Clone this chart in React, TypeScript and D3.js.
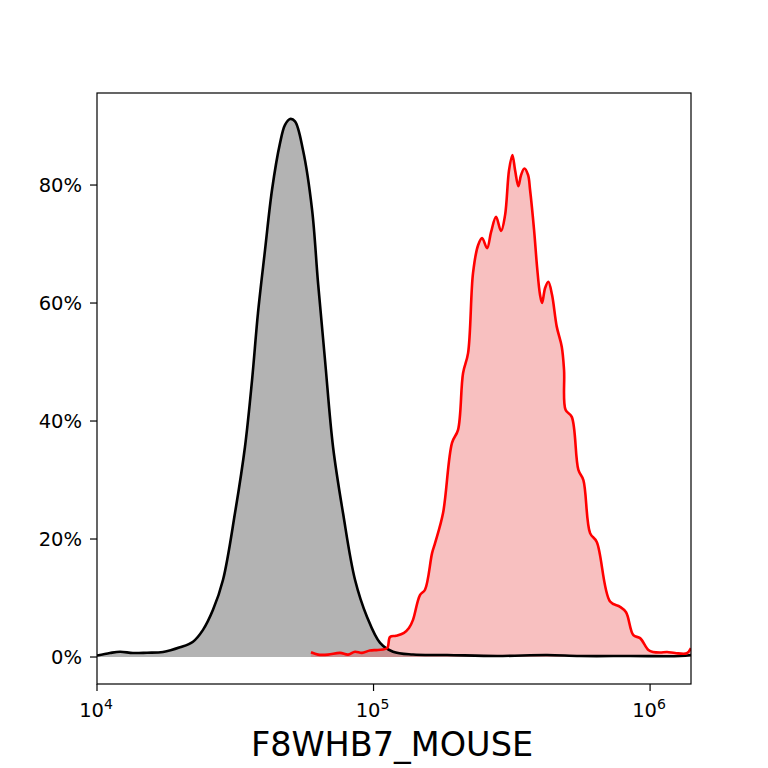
import * as d3 from 'd3';

// Control (grey) histogram, x in fluorescence units, y in % of max
const controlX = [
  1.0e4, 1.114e4, 1.211e4, 1.349e4, 1.516e4, 1.733e4, 1.995e4, 2.224e4, 2.417e4, 2.627e4,
  2.856e4, 3.155e4, 3.428e4, 3.636e4, 3.82e4, 4.052e4, 4.295e4, 4.59e4, 4.785e4, 4.989e4,
  5.2e4, 5.56e4, 5.995e4, 6.3e4, 6.677e4, 7.138e4, 7.756e4, 8.57e4, 9.474e4, 1.056e5,
  1.176e5, 1.389e5, 1.845e5, 2.797e5, 4.241e5, 5.58e5, 8.47e5, 1.284e6, 1.406e6,
];
const controlY = [
  0.25, 0.68, 0.9, 0.68, 0.73, 0.85, 1.64, 2.6, 4.6, 8.0,
  13.1, 24.4, 35.6, 46.9, 58.3, 69.0, 79.2, 87.1, 90.2, 91.2,
  90.8, 85.9, 75.8, 63.4, 50.3, 35.6, 24.4, 13.1, 6.8, 2.4,
  0.9, 0.42, 0.34, 0.17, 0.34, 0.17, 0.17, 0.17, 0.34,
];

// Stained (red) histogram
const sampleX = [
  5.94e4, 6.3e4, 6.845e4, 7.566e4, 8.09e4, 8.57e4, 9.08e4, 9.7e4, 1.037e5, 1.119e5,
  1.147e5, 1.206e5, 1.289e5, 1.343e5, 1.389e5, 1.472e5, 1.535e5, 1.628e5, 1.669e5, 1.784e5,
  1.922e5, 2.021e5, 2.107e5, 2.197e5, 2.29e5, 2.388e5, 2.469e5, 2.574e5, 2.66e5, 2.773e5,
  2.891e5, 2.99e5, 3.09e5, 3.177e5, 3.25e5, 3.34e5, 3.416e5, 3.511e5, 3.621e5, 3.681e5,
  3.806e5, 3.903e5, 4.0e5, 4.07e5, 4.17e5, 4.286e5, 4.42e5, 4.597e5, 4.793e5, 4.886e5,
  4.947e5, 5.21e5, 5.505e5, 5.739e5, 6.068e5, 6.416e5, 7.166e5, 7.789e5, 8.188e5, 8.701e5,
  9.2e5, 9.86e5, 1.025e6, 1.087e6, 1.152e6, 1.231e6, 1.358e6, 1.406e6,
];
const sampleY = [
  0.8, 0.4, 0.4, 0.7, 0.4, 0.9, 0.7, 1.1, 1.2, 1.5,
  3.4, 3.6, 4.1, 4.9, 6.3, 10.5, 11.4, 17.6, 19.3, 24.4,
  36.3, 38.5, 48.1, 51.5, 65.1, 69.8, 71.0, 69.3, 72.0, 74.6,
  72.2, 74.9, 82.5, 85.1, 82.5, 79.8, 81.7, 82.8, 81.7, 79.2,
  72.4, 66.1, 61.4, 60.0, 62.5, 63.6, 61.4, 56.0, 52.6, 48.6,
  41.9, 40.7, 31.7, 30.0, 21.0, 19.5, 9.4, 8.5, 7.6, 3.7,
  3.2, 1.2, 0.85, 0.76, 0.85, 0.68, 0.63, 1.5,
];

const yTicks = [0, 20, 40, 60, 80];
const xTicks = [1e4, 1e5, 1e6];
const xLabel = 'F8WHB7_MOUSE';

const W = 768;
const H = 768;
const M = { left: 97, right: 691, top: 93, bottom: 684 };
const FONT = '"DejaVu Sans", sans-serif';

export default function App() {
  const x = d3.scaleLog().domain([1e4, 1.406e6]).range([M.left, M.right]);
  const y = d3.scaleLinear().domain([-4.575, 95.6]).range([M.bottom, M.top]);

  const control = controlX.map((v, i) => [v, controlY[i]] as [number, number]);
  const sample = sampleX.map((v, i) => [v, sampleY[i]] as [number, number]);

  const area = d3
    .area<[number, number]>()
    .x(d => x(d[0]))
    .y0(y(0))
    .y1(d => y(d[1]))
    .curve(d3.curveCatmullRom.alpha(0.5));
  const line = d3
    .line<[number, number]>()
    .x(d => x(d[0]))
    .y(d => y(d[1]))
    .curve(d3.curveCatmullRom.alpha(0.5));

  return (
    <svg
      width={W}
      height={H}
      style={{ position: 'absolute', left: 0, top: 0, background: '#fff' }}
      fontFamily={FONT}
    >
      <defs>
        <clipPath id="plot-clip">
          <rect x={M.left} y={M.top} width={M.right - M.left} height={M.bottom - M.top} />
        </clipPath>
      </defs>
      <g clipPath="url(#plot-clip)">
        <path d={area(control) ?? ''} fill="#b3b3b3" />
        <path d={area(sample) ?? ''} fill="rgba(235,80,80,0.36)" />
        <path d={line(control) ?? ''} fill="none" stroke="#000" strokeWidth={2.6} strokeLinejoin="round" />
        <path d={line(sample) ?? ''} fill="none" stroke="#ff0000" strokeWidth={2.6} strokeLinejoin="round" />
      </g>
      <rect
        x={M.left}
        y={M.top}
        width={M.right - M.left}
        height={M.bottom - M.top}
        fill="none"
        stroke="#000"
        strokeWidth={1.2}
      />
      {yTicks.map(t => (
        <g key={t}>
          <line x1={M.left - 7} x2={M.left} y1={y(t)} y2={y(t)} stroke="#000" strokeWidth={1.2} />
          <text x={M.left - 15} y={y(t)} dy="0.36em" textAnchor="end" fontSize={19.5} fill="#000">
            {`${t}%`}
          </text>
        </g>
      ))}
      {xTicks.map(t => (
        <g key={t}>
          <line x1={x(t)} x2={x(t)} y1={M.bottom} y2={M.bottom + 7} stroke="#000" strokeWidth={1.2} />
          <text x={x(t) - 1} y={717} textAnchor="middle" fontSize={19.5} fill="#000">
            <tspan>10</tspan>
            <tspan dy={-8.5} fontSize={14}>
              {Math.round(Math.log10(t))}
            </tspan>
          </text>
        </g>
      ))}
      <text x={392} y={756} textAnchor="middle" fontSize={33.5} fill="#000">
        {xLabel}
      </text>
    </svg>
  );
}
